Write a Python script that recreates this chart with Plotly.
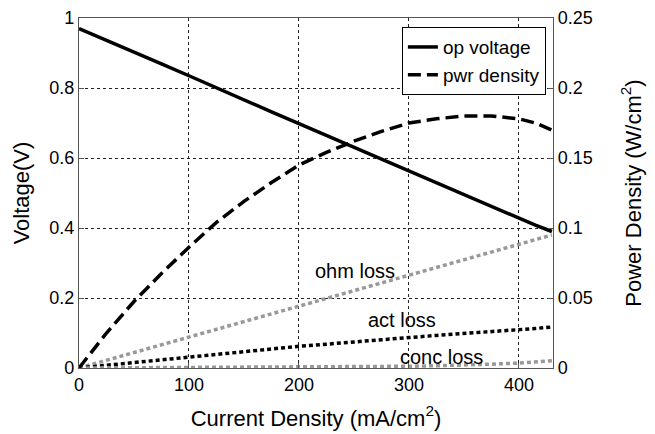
import plotly.graph_objects as go

# ---- data ----
current = [0, 25, 50, 75, 100, 125, 150, 175, 200, 225, 250, 275, 300, 325, 350, 375, 400, 415, 430]
op_voltage = [0.970, 0.937, 0.903, 0.869, 0.835, 0.800, 0.766, 0.732, 0.698, 0.664, 0.630, 0.597, 0.563, 0.529, 0.496, 0.462, 0.428, 0.408, 0.390]
pwr_density = [0.0, 0.025, 0.0475, 0.0675, 0.0863, 0.104, 0.119, 0.1325, 0.145, 0.154, 0.162, 0.169, 0.175, 0.178, 0.180, 0.180, 0.178, 0.175, 0.170]
ohm_loss = [0.0, 0.022, 0.044, 0.066, 0.089, 0.111, 0.133, 0.155, 0.177, 0.199, 0.221, 0.243, 0.266, 0.288, 0.310, 0.332, 0.354, 0.367, 0.380]
act_loss = [0.0, 0.008, 0.015, 0.023, 0.030, 0.038, 0.046, 0.054, 0.062, 0.068, 0.075, 0.081, 0.087, 0.093, 0.098, 0.104, 0.109, 0.113, 0.117]
conc_loss = [0.0, 0.0003, 0.0005, 0.0008, 0.001, 0.0013, 0.0015, 0.0018, 0.002, 0.0025, 0.003, 0.004, 0.005, 0.0065, 0.008, 0.011, 0.014, 0.017, 0.021]

x_ticks = [0, 100, 200, 300, 400]
v_ticks = [0, 0.2, 0.4, 0.6, 0.8, 1]
v_tick_text = ["0", "0.2", "0.4", "0.6", "0.8", "1"]
p_ticks = [0, 0.05, 0.1, 0.15, 0.2, 0.25]
p_tick_text = ["0", "0.05", "0.1", "0.15", "0.2", "0.25"]

labels = ["ohm loss", "act loss", "conc loss"]
label_x = [251, 294, 330]
label_y = [0.277, 0.137, 0.032]

FONT = "Liberation Sans, Arial, Helvetica, sans-serif"

fig = go.Figure()
fig.add_trace(go.Scatter(x=current, y=op_voltage, mode="lines", name="op voltage",
                         line=dict(color="black", width=3.5)))
fig.add_trace(go.Scatter(x=current, y=pwr_density, mode="lines", name="pwr density", yaxis="y2",
                         line=dict(color="black", width=3.5, dash="13px,6px")))
fig.add_trace(go.Scatter(x=current, y=ohm_loss, mode="lines", showlegend=False,
                         line=dict(color="#999999", width=3.5, dash="4px,3px")))
fig.add_trace(go.Scatter(x=current, y=act_loss, mode="lines", showlegend=False,
                         line=dict(color="black", width=3.5, dash="4px,3px")))
fig.add_trace(go.Scatter(x=current, y=conc_loss, mode="lines", showlegend=False,
                         line=dict(color="#999999", width=3.5, dash="4px,3px")))

for t, xx, yy in zip(labels, label_x, label_y):
    fig.add_annotation(x=xx, y=yy, xref="x", yref="y", text=t, showarrow=False,
                       font=dict(size=20, color="black", family=FONT))

axis_common = dict(showline=True, linecolor="#555555", linewidth=1.2, ticks="inside",
                   ticklen=5, tickcolor="#555555", zeroline=False, automargin=False,
                   tickfont=dict(size=18, color="black", family=FONT))

fig.update_layout(
    width=655, height=434,
    margin=dict(l=79, r=102, t=18, b=66),
    paper_bgcolor="white", plot_bgcolor="white",
    font=dict(family=FONT, size=18, color="black"),
    xaxis=dict(range=[0, 431], tickvals=x_ticks, mirror=True,
               showgrid=True, gridcolor="#222222", gridwidth=1, griddash="dot",
               title=dict(text="Current Density (mA/cm<sup>2</sup>)", font=dict(size=22), standoff=16),
               **axis_common),
    yaxis=dict(range=[0, 1], tickvals=v_ticks, ticktext=v_tick_text, mirror=True,
               showgrid=True, gridcolor="#222222", gridwidth=1, griddash="dot",
               title=dict(text="Voltage(V)", font=dict(size=22), standoff=13),
               **axis_common),
    yaxis2=dict(range=[0, 0.25], tickvals=p_ticks, ticktext=p_tick_text, overlaying="y",
                side="right", showgrid=False,
                title=dict(text="Power Density (W/cm<sup>2</sup>)", font=dict(size=22), standoff=33),
                **axis_common),
    legend=dict(x=0.985, y=0.974, xanchor="right", yanchor="top",
                bgcolor="white", bordercolor="black", borderwidth=1,
                font=dict(size=19, family=FONT), tracegroupgap=0),
    showlegend=True,
)

fig.write_html("out.html")
